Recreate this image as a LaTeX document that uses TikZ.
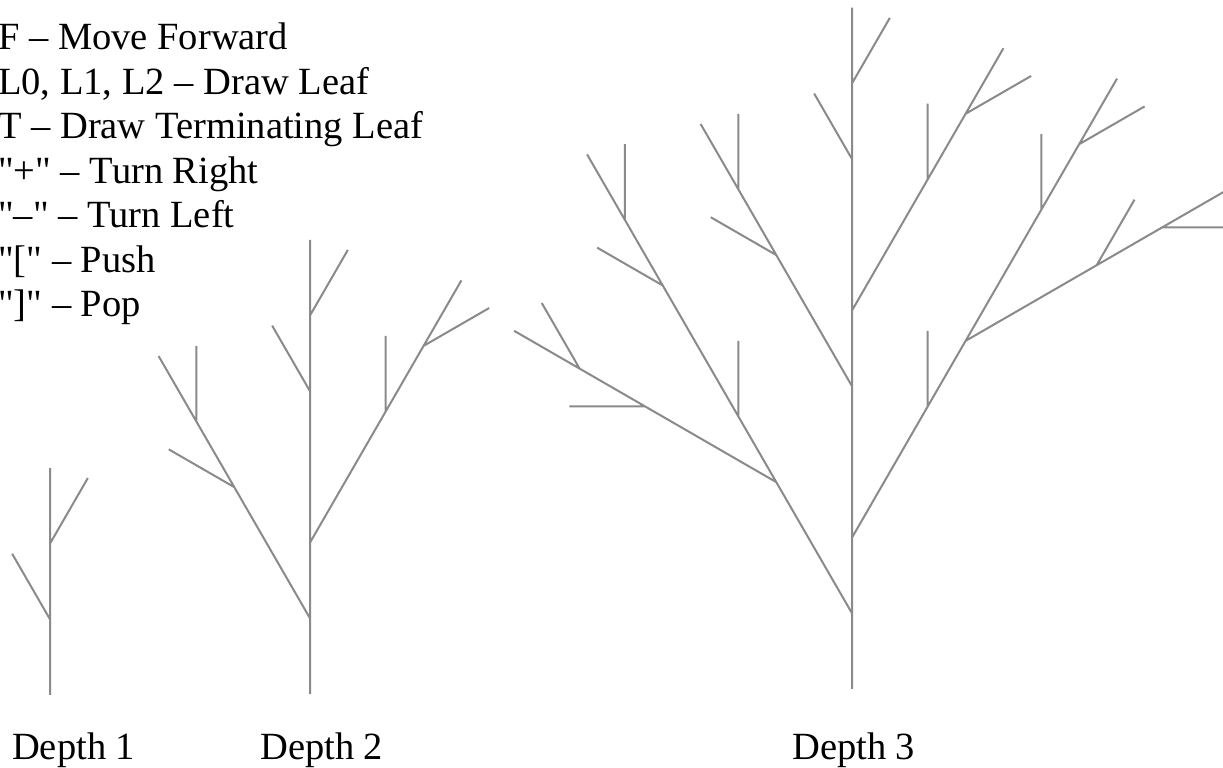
\documentclass[tikz,border=0pt]{standalone}
\usepackage{fontspec}
\setmainfont{Liberation Serif}
\usetikzlibrary{lindenmayersystems}

% X: main stem with a left (A) and a right (B) limb and a top shoot.
% A limb keeps its outer (left) shoot and only a leaf on the inner side;
% B is its mirror image.
\pgfdeclarelindenmayersystem{leafy tree}{
  \rule{X -> F[+FA]F[-FB]FX}
  \rule{A -> F[+FA]F[-F]FA}
  \rule{B -> F[+F]F[-FB]FB}
}

\definecolor{twig}{RGB}{138,138,138}
\tikzset{
  branch/.style={draw=twig, line width=2pt},
  keytext/.style={anchor=base west, inner sep=0pt, text=black,
    font=\fontsize{38.5}{44.5}\selectfont},
  depthlabel/.style={anchor=base west, inner sep=0pt, text=black,
    font=\fontsize{38.5}{44.5}\selectfont},
}

\begin{document}
\begin{tikzpicture}[x=1pt, y=1pt]
  \useasboundingbox (0,0) rectangle (1223,768);
  \clip (0,0) rectangle (1223,768);

  % legend of turtle commands
  \node[keytext] (keyF)    at (-2,718)   {F -- Move Forward};
  \node[keytext] (keyL)    at (-2,673.5) {L0, L1, L2 -- Draw Leaf};
  \node[keytext] (keyT)    at (-2,629)   {T -- Draw Terminating Leaf};
  \node[keytext] (keyPlus) at (-2,584.5) {\textquotedbl+\textquotedbl{} -- Turn Right};
  \node[keytext] (keyMin)  at (-2,540)   {\textquotedbl--\textquotedbl{} -- Turn Left};
  \node[keytext] (keyPush) at (-2,495.5) {\textquotedbl[\textquotedbl{} -- Push};
  \node[keytext] (keyPop)  at (-2,451)   {\textquotedbl]\textquotedbl{} -- Pop};

  % trees of increasing depth
  \draw[branch, shift={(50,73)}, rotate=90,
    l-system={leafy tree, axiom=X, order=1, angle=30, step=75.7pt}]
    (0,0) lindenmayer system;
  \draw[branch, shift={(310,74)}, rotate=90,
    l-system={leafy tree, axiom=X, order=2, angle=30, step=75.7pt}]
    (0,0) lindenmayer system;
  \draw[branch, shift={(852,79)}, rotate=90,
    l-system={leafy tree, axiom=X, order=3, angle=30, step=75.7pt}]
    (0,0) lindenmayer system;

  % captions
  \node[depthlabel] (d1) at (12,9)  {Depth 1};
  \node[depthlabel] (d2) at (260,9) {Depth 2};
  \node[depthlabel] (d3) at (792,9) {Depth 3};
\end{tikzpicture}
\end{document}
